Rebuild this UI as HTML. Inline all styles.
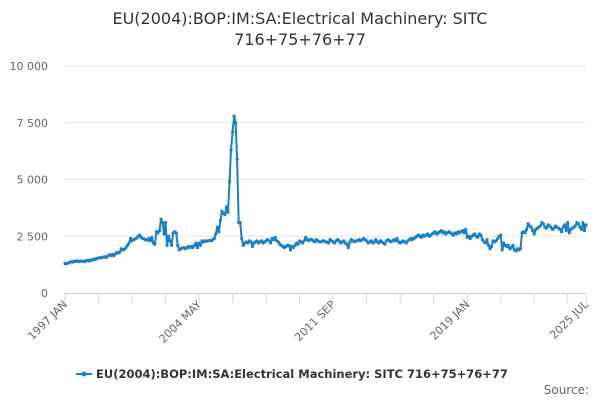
<!DOCTYPE html>
<html><head><meta charset="utf-8"><style>
body{margin:0;background:#fff;width:600px;height:400px;overflow:hidden;font-family:"DejaVu Sans","Liberation Sans",sans-serif}
</style></head><body>
<svg id="chart" width="600" height="400" xmlns="http://www.w3.org/2000/svg" font-family="DejaVu Sans, Liberation Sans, sans-serif">
<text x="300" y="24" text-anchor="middle" font-size="16" fill="#333">EU(2004):BOP:IM:SA:Electrical Machinery: SITC</text>
<text x="300" y="45" text-anchor="middle" font-size="16" fill="#333">716+75+76+77</text>
<g id="grid"></g><g id="xaxis"></g><g id="series"></g>
<g>
<line x1="76" y1="374" x2="92" y2="374" stroke="#1a7fc4" stroke-width="2"/>
<circle cx="84" cy="374" r="2.5" fill="#1a7fc4"/>
<text x="96" y="378" font-size="11.5" font-weight="bold" fill="#333">EU(2004):BOP:IM:SA:Electrical Machinery: SITC 716+75+76+77</text>
</g>
<text x="589" y="394" text-anchor="end" font-size="12" fill="#666">Source:</text>
</svg>
<script>
const yTicks=[0,2500,5000,7500,10000];
const yTickLabels=["0","2 500","5 000","7 500","10 000"];
const xLabelMonths=[0,88,176,264,342];
const xLabels=["1997 JAN","2004 MAY","2011 SEP","2019 JAN","2025 JUL"];
const values=[
1300,1290,1320,1350,1380,1360,1400,1390,1420,1380,1400,1410,
1400,1380,1420,1440,1410,1460,1450,1500,1480,1520,1540,1560,
1550,1580,1600,1560,1620,1680,1650,1700,1640,1720,1780,1760,
1800,1950,1900,1920,2000,2100,2200,2400,2300,2350,2380,2420,
2500,2550,2450,2400,2380,2350,2320,2400,2300,2450,2200,2150,
2700,2650,2750,3250,3100,2600,3100,2100,2500,2300,2100,2650,
2700,2650,2100,1900,1950,1980,2000,1950,2000,2050,2000,2050,
2000,2100,2200,2000,2200,2100,2300,2250,2300,2280,2300,2320,
2300,2350,2400,2600,2900,2700,3200,3600,3500,3450,3800,3550,
4900,6300,7100,7800,7500,5900,3100,3100,2400,2100,2200,2250,
2200,2300,2250,2050,2200,2250,2300,2200,2250,2300,2200,2250,
2300,2350,2300,2200,2400,2350,2450,2300,2250,2150,2100,2050,
2000,2050,2100,2100,1900,2050,2000,2100,2200,2150,2300,2250,
2200,2300,2450,2350,2300,2350,2350,2300,2250,2350,2300,2250,
2250,2300,2300,2250,2250,2200,2350,2300,2250,2200,2300,2350,
2300,2200,2250,2300,2200,2150,2000,2250,2350,2300,2250,2300,
2300,2350,2300,2350,2400,2350,2300,2200,2250,2300,2200,2250,
2350,2250,2200,2300,2250,2200,2150,2300,2350,2300,2250,2300,
2350,2300,2400,2250,2200,2250,2300,2250,2200,2300,2350,2400,
2350,2400,2450,2500,2550,2500,2450,2550,2500,2550,2600,2500,
2550,2600,2650,2700,2600,2650,2700,2750,2650,2700,2600,2650,
2700,2650,2600,2550,2650,2600,2700,2650,2700,2750,2650,2800,
2450,2500,2400,2500,2550,2600,2500,2450,2600,2550,2350,2250,
2200,2350,2100,1950,2050,2300,2250,2300,2400,2500,2550,1900,
2200,2100,2050,2100,1950,2000,2100,1900,1850,1950,1900,1950,
2650,2700,2650,2800,3050,2950,2900,2750,2600,2800,2850,2900,
2950,3100,3050,2900,2850,3000,2950,2900,2800,2850,2950,2900,
2850,2800,2700,2900,3000,2750,3100,2650,2800,2850,2900,2950,
3100,3050,2900,2800,3100,2750,3000];
const NS="http://www.w3.org/2000/svg";
const X0=65,X1=586,Y0=293,Y1=66,NM=342;
const xs=m=>X0+(X1-X0)*m/NM;
const ys=v=>Y0-(Y0-Y1)*v/10000;
function mk(t,a,p){const e=document.createElementNS(NS,t);for(const k in a)e.setAttribute(k,a[k]);p.appendChild(e);return e;}
const grid=document.getElementById('grid');
yTicks.forEach((v,i)=>{
 if(v>0){const l=mk('line',{x1:X0,x2:X1,y1:ys(v),y2:ys(v),stroke:'#e6e6e6','stroke-width':1},grid);
 
 }
 const t=mk('text',{x:48,y:ys(v)+4,'text-anchor':'end','font-size':11,fill:'#666'},grid);
 
 
 t.textContent=yTickLabels[i];
});
const xa=document.getElementById('xaxis');
const ax=mk('line',{x1:X0,x2:X1,y1:Y0+0.5,y2:Y0+0.5,stroke:'#ccd6eb','stroke-width':1},xa);


const tickMonths=[];for(let m=0;m<=330;m+=22)tickMonths.push(m);tickMonths.push(NM);
tickMonths.forEach(m=>{const t=mk('line',{x1:xs(m),x2:xs(m),y1:Y0,y2:Y0+10,stroke:'#ccd6eb'},xa);
 
 });
xLabelMonths.forEach((m,i)=>{const x=xs(m)+3,y=Y0+12;
 const t=mk('text',{x:x,y:y,'text-anchor':'end','font-size':11,fill:'#666',transform:`rotate(-45 ${x} ${y})`},xa);
 
 
 t.textContent=xLabels[i];});
const sg=document.getElementById('series');
const pts=values.map((v,i)=>xs(i).toFixed(1)+','+ys(v).toFixed(1)).join(' ');
const pl=mk('polyline',{points:pts,fill:'none',stroke:'#1a7fc4','stroke-width':2,'stroke-linejoin':'round'},sg);


values.forEach((v,i)=>{const c=mk('circle',{cx:xs(i),cy:ys(v),r:1.6,fill:'#1a7fc4'},sg);
 
 });
</script>
</body></html>
